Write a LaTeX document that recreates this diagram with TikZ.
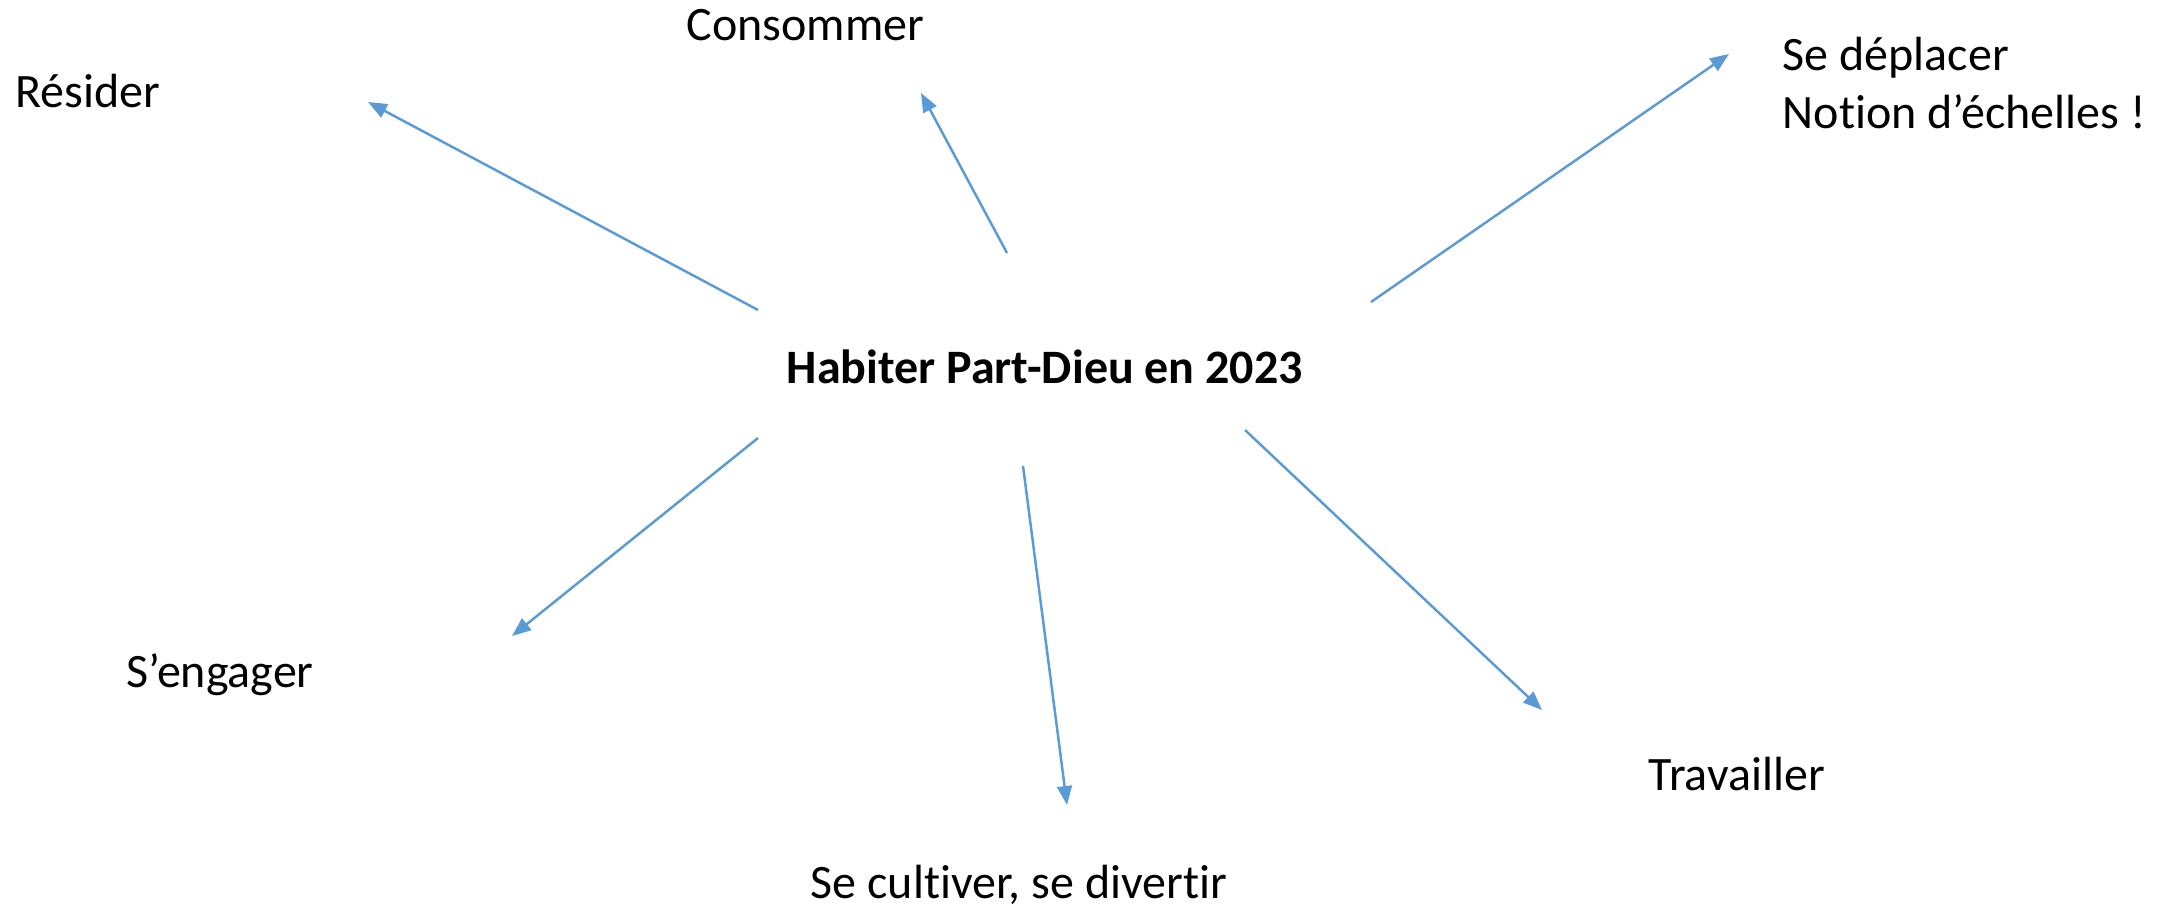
\documentclass[tikz,border=0pt]{standalone}
\usepackage{fontspec}
\setmainfont{Carlito}[Ligatures={TeX,NoCommon}]
\usepackage{tikz}
\usetikzlibrary{arrows.meta}
\usepackage{xcolor}
\definecolor{branchblue}{HTML}{5B9BD5}

\begin{document}
\begin{tikzpicture}[x=0.1mm,y=-0.1mm,
  topic/.style={anchor=base west,inner sep=0pt,font=\fontsize{13.66pt}{16.5pt}\selectfont},
  branch/.style={draw=branchblue,line width=0.7pt,-{Triangle[length=5.4pt,width=4.2pt]}}]

% Frame
\fill[white] (0,0) rectangle (2161,908);
\useasboundingbox (0,0) rectangle (2161,908);

% Centre
\node[topic,font=\fontsize{13.66pt}{16.5pt}\selectfont\bfseries] (hub) at (786,383) {Habiter Part-Dieu en 2023};

% Themes
\node[topic] (resider) at (15,107) {Résider};
\node[topic] (consommer) at (686,40) {Consommer};
\node[topic,align=left] (deplacer) at (1782,128) {Se déplacer\\Notion d’échelles !};
\node[topic] (engager) at (126,687) {S’engager};
\node[topic] (cultiver) at (810,898) {Se cultiver, se divertir};
\node[topic] (travailler) at (1648,790) {Travailler};

% Arrow ends
\coordinate (resider-from) at (758,310);
\coordinate (resider-to) at (368,102);
\coordinate (consommer-from) at (1007,253);
\coordinate (consommer-to) at (921,93);
\coordinate (deplacer-from) at (1371,302);
\coordinate (deplacer-to) at (1729,54);
\coordinate (engager-from) at (758,438);
\coordinate (engager-to) at (512,636);
\coordinate (cultiver-from) at (1023,466);
\coordinate (cultiver-to) at (1067,805);
\coordinate (travailler-from) at (1245,430);
\coordinate (travailler-to) at (1542,710);

% Arrows
\draw[branch] (resider-from) -- (resider-to);
\draw[branch] (consommer-from) -- (consommer-to);
\draw[branch] (deplacer-from) -- (deplacer-to);
\draw[branch] (engager-from) -- (engager-to);
\draw[branch] (cultiver-from) -- (cultiver-to);
\draw[branch] (travailler-from) -- (travailler-to);

\end{tikzpicture}
\end{document}
